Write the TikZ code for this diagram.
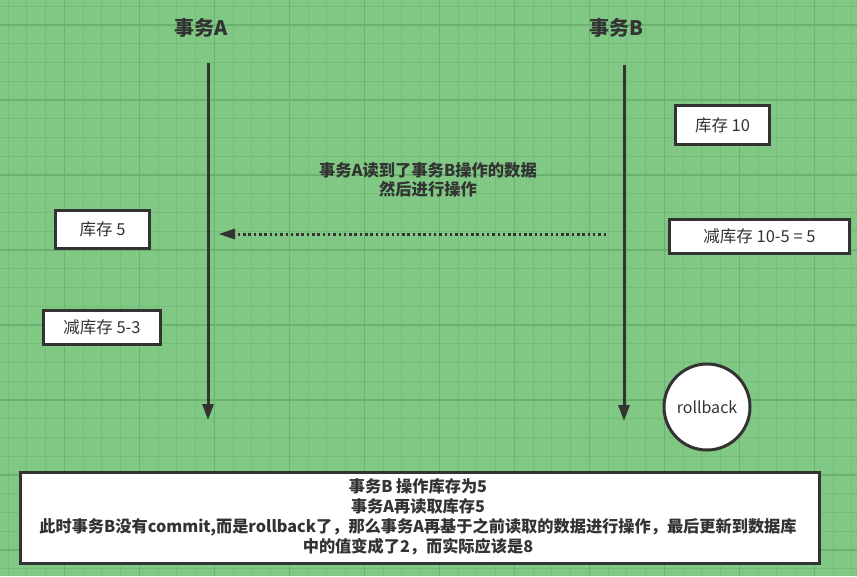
\documentclass[tikz,border=0pt]{standalone}
\usepackage{fontspec}
\setmainfont{Noto Sans CJK SC}
\usetikzlibrary{arrows.meta}
\definecolor{bggreen}{RGB}{128,200,132}
\definecolor{minorgrid}{RGB}{117,188,121}
\definecolor{majorgrid}{RGB}{107,177,111}
\definecolor{ink}{RGB}{51,51,51}
\tikzset{
  minorline/.style={draw=minorgrid, line width=0.9pt},
  majorline/.style={draw=majorgrid, line width=1.3pt},
  header/.style={text=ink, font=\fontsize{20}{24}\selectfont\bfseries, inner sep=0pt},
  valbox/.style={draw=ink, fill=white, line width=3pt, text=ink, font=\fontsize{16.5}{20}\selectfont, inner sep=0pt, anchor=north west},
  lifeline/.style={draw=ink, line width=3pt, -{Triangle[length=16pt,width=11pt]}},
  readarrow/.style={draw=ink, line width=3pt, dash pattern=on 2.5pt off 2.8pt, -{Triangle[length=16pt,width=11pt,line width=0pt, sep=0pt]}},
  note/.style={text=ink, font=\fontsize{16.3}{19.5}\selectfont\bfseries, align=center, inner sep=0pt},
}
\begin{document}
\begin{tikzpicture}[x=1pt, y=-1pt]
\useasboundingbox (0,0) rectangle (857,576);
\fill[bggreen] (0,0) rectangle (857,576);
% grid
\foreach \i in {0,...,46} {\draw[minorline] ({8.05+18.75*\i},0) -- ++(0,576);}
\foreach \i in {0,...,31} {\draw[minorline] (0,{6.25+18.75*\i}) -- ++(857,0);}
\foreach \i in {0,...,11} {\draw[majorline] ({-10.7+75*\i},0) -- ++(0,576);}
\foreach \i in {0,...,7} {\draw[majorline] (0,{25+75*\i}) -- ++(857,0);}

% headers
\node[header] (ta) at (201,28) {事务A};
\node[header] (tb) at (616,28) {事务B};

% lifelines
\coordinate (a1) at (208,63);
\coordinate (a2) at (208,420);
\coordinate (b1) at (624,65);
\coordinate (b2) at (624,421);
\draw[lifeline] (a1) -- (a2);
\draw[lifeline] (b1) -- (b2);

% value boxes
\node[valbox, minimum width=94pt, minimum height=39pt] (b10) at (674,104) {库存 10};
\node[valbox, minimum width=180pt, minimum height=34pt] (bsub) at (668,218) {减库存 10-5 = 5};
\node[valbox, minimum width=94pt, minimum height=38pt] (a5) at (54,209) {库存 5};
\node[valbox, minimum width=117pt, minimum height=34pt] (asub) at (42,309) {减库存 5-3};

% read arrow
\node[note] (readnote) at (428,180) {事务A读到了事务B操作的数据\\然后进行操作};
\coordinate (r1) at (606,234);
\coordinate (r2) at (219,234);
\draw[readarrow] (r1) -- (r2);

% rollback
\node[circle, draw=ink, fill=white, line width=3pt, minimum size=86pt, inner sep=0pt, text=ink, font=\fontsize{16}{19}\selectfont] (rb) at (707,407) {rollback};

% bottom summary
\node[draw=ink, fill=white, line width=3pt, minimum width=799pt, minimum height=91pt, inner sep=0pt, anchor=north west] (sum) at (19,471) {};
\node[note, font=\fontsize{16.2}{20}\selectfont\bfseries] (sumtext) at (418,517) {事务B 操作库存为5\\事务A再读取库存5\\此时事务B没有commit,而是rollback了，那么事务A再基于之前读取的数据进行操作，最后更新到数据库\\中的值变成了2，而实际应该是8};
\end{tikzpicture}
\end{document}
